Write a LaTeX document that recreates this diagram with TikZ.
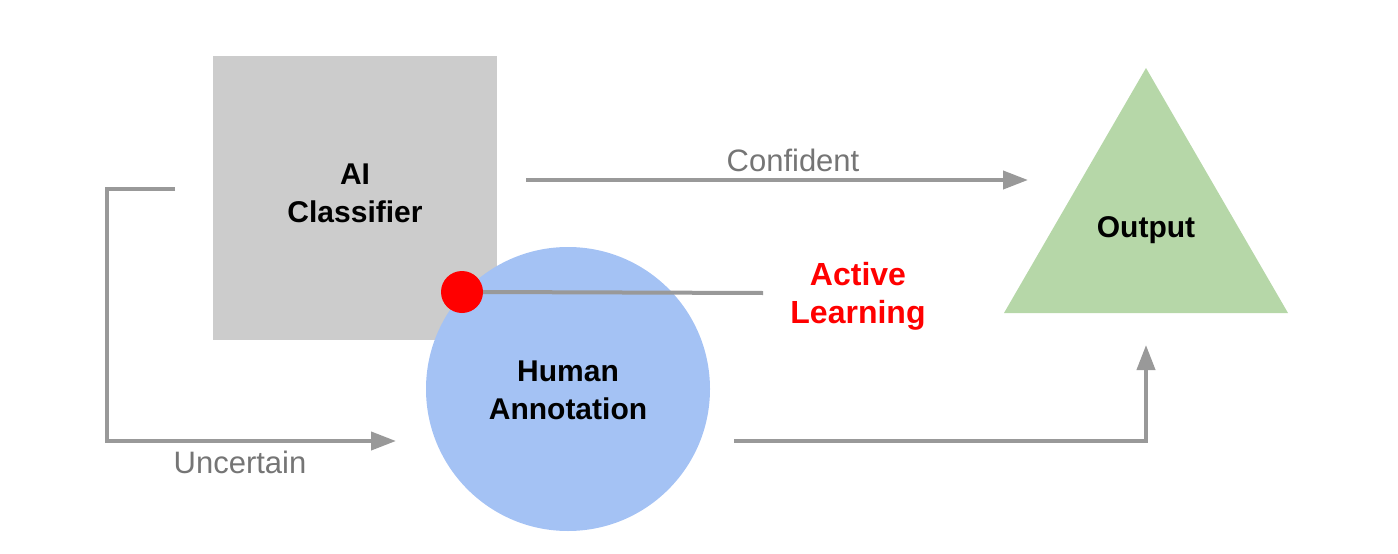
\documentclass[tikz,border=0pt]{standalone}
\usepackage{fontspec}
\setmainfont{Liberation Sans}
\usetikzlibrary{arrows.meta}
\definecolor{linegray}{HTML}{999999}
\definecolor{boxgray}{HTML}{CCCCCC}
\definecolor{circblue}{HTML}{A4C2F4}
\definecolor{trigreen}{HTML}{B6D7A8}
\definecolor{labgray}{HTML}{757575}
\begin{document}
\begin{tikzpicture}[x=1pt,y=-1pt,
  conn/.style={draw=linegray,line width=4pt},
  arr/.style={conn,-{Triangle[length=25pt,width=18pt]}},
  lbl/.style={font=\fontsize{30}{38}\selectfont\bfseries,align=center,text=black},
  glbl/.style={font=\fontsize{31}{36}\selectfont,text=labgray}]
\useasboundingbox (0,0) rectangle (1398,554);
\fill[boxgray] (213,56) rectangle (497,340);
\fill[circblue] (568,389) circle[radius=142];
\fill[trigreen] (1146,68) -- (1288,313) -- (1004,313) -- cycle;
\node[lbl] (ai) at (355,193) {AI\\Classifier};
\node[lbl] (human) at (568,390) {Human\\Annotation};
\node[lbl] (out) at (1146,230) {Output};
\node[lbl,text=red,font=\fontsize{32}{38}\selectfont\bfseries] (al) at (858,296) {Active\\Learning};
\coordinate (c1s) at (526,180);
\coordinate (c1e) at (1028,180);
\draw[arr] (c1s) -- (c1e);
\node[glbl] (conf) at (793,160) {Confident};
\coordinate (u1) at (175,189);
\coordinate (u2) at (107,189);
\coordinate (u3) at (107,441);
\coordinate (u4) at (396,441);
\draw[arr] (u1) -- (u2) -- (u3) -- (u4);
\node[glbl] (unc) at (240,462) {Uncertain};
\coordinate (b1) at (734,441);
\coordinate (b2) at (1146,441);
\coordinate (b3) at (1146,345);
\draw[arr] (b1) -- (b2) -- (b3);
\node[circle,fill=red,minimum size=42pt,inner sep=0pt] (dot) at (462,292) {};
\coordinate (ale) at (763,293);
\draw[conn] (dot.center) ++(21,0) -- (ale);
\end{tikzpicture}
\end{document}
